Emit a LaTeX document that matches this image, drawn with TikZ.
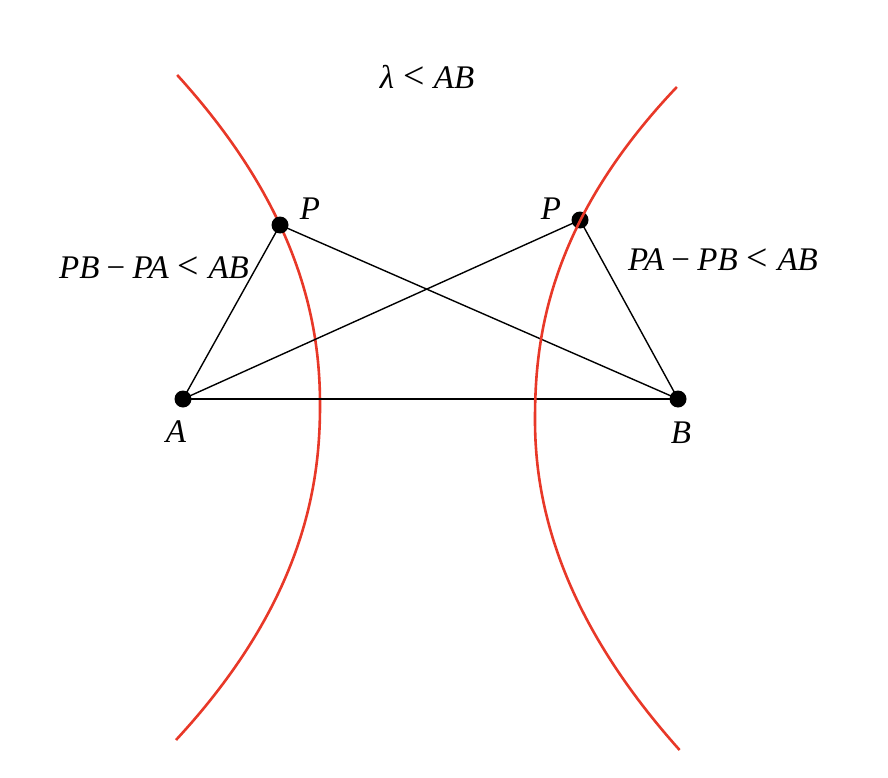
\documentclass[tikz,border=0pt]{standalone}
\usepackage{fontspec}
\setmainfont{Liberation Serif}
\definecolor{hypred}{RGB}{232,56,40}
\newcommand{\bop}[1]{\hspace{0.22em}{\upshape #1}\hspace{0.22em}}
\newcommand{\rel}[1]{\hspace{0.28em}{\upshape\scalebox{1.15}{#1}}\hspace{0.28em}}
\begin{document}
\begin{tikzpicture}[x=1pt,y=-1pt,
  dot/.style={circle,fill=black,inner sep=0pt,minimum size=17pt},
  seg/.style={draw=black,line width=1.4pt},
  hyp/.style={draw=hypred,line width=2.6pt},
  lbl/.style={font=\fontsize{33}{38}\selectfont\itshape,inner sep=0pt}]
\useasboundingbox (0,0) rectangle (888,778);
\coordinate (A) at (183,399);
\coordinate (B) at (678,399);
\coordinate (P1) at (280,225);
\coordinate (P2) at (580,220);
% left branch
\draw[hyp] plot[domain=330:0.001,samples=60,variable=\t] ({320-40*(\t/180)^2.1},{405-\t})
  -- plot[domain=0.001:335,samples=60,variable=\t] ({320-45*(\t/195)^2.15},{405+\t});
% segments
\draw[seg] (A) -- (B);
\draw[seg] (A) -- (P1) -- (B);
\draw[seg] (A) -- (P2) -- (B);
% dots
\node[dot] (dA) at (A) {};
\node[dot] (dB) at (B) {};
\node[dot] (dP1) at (P1) {};
\node[dot] (dP2) at (P2) {};
% right branch
\draw[hyp] plot[domain=333:0.001,samples=60,variable=\t] ({535+45*(\t/199)^2.23},{420-\t})
  -- plot[domain=0.001:330,samples=60,variable=\t] ({535+42*(\t/180)^2.04},{420+\t});
% labels
\node[lbl] (lA) at (176,432) {A};
\node[lbl] (lB) at (681,433) {B};
\node[lbl] (lP1) at (310,209) {P};
\node[lbl] (lP2) at (551,209) {P};
\node[lbl] (lam) at (427,77) {λ\rel{<}AB};
\node[lbl] (left) at (154,268) {PB\bop{−}PA\rel{<}AB};
\node[lbl] (right) at (723,260) {PA\bop{−}PB\rel{<}AB};
\end{tikzpicture}
\end{document}
